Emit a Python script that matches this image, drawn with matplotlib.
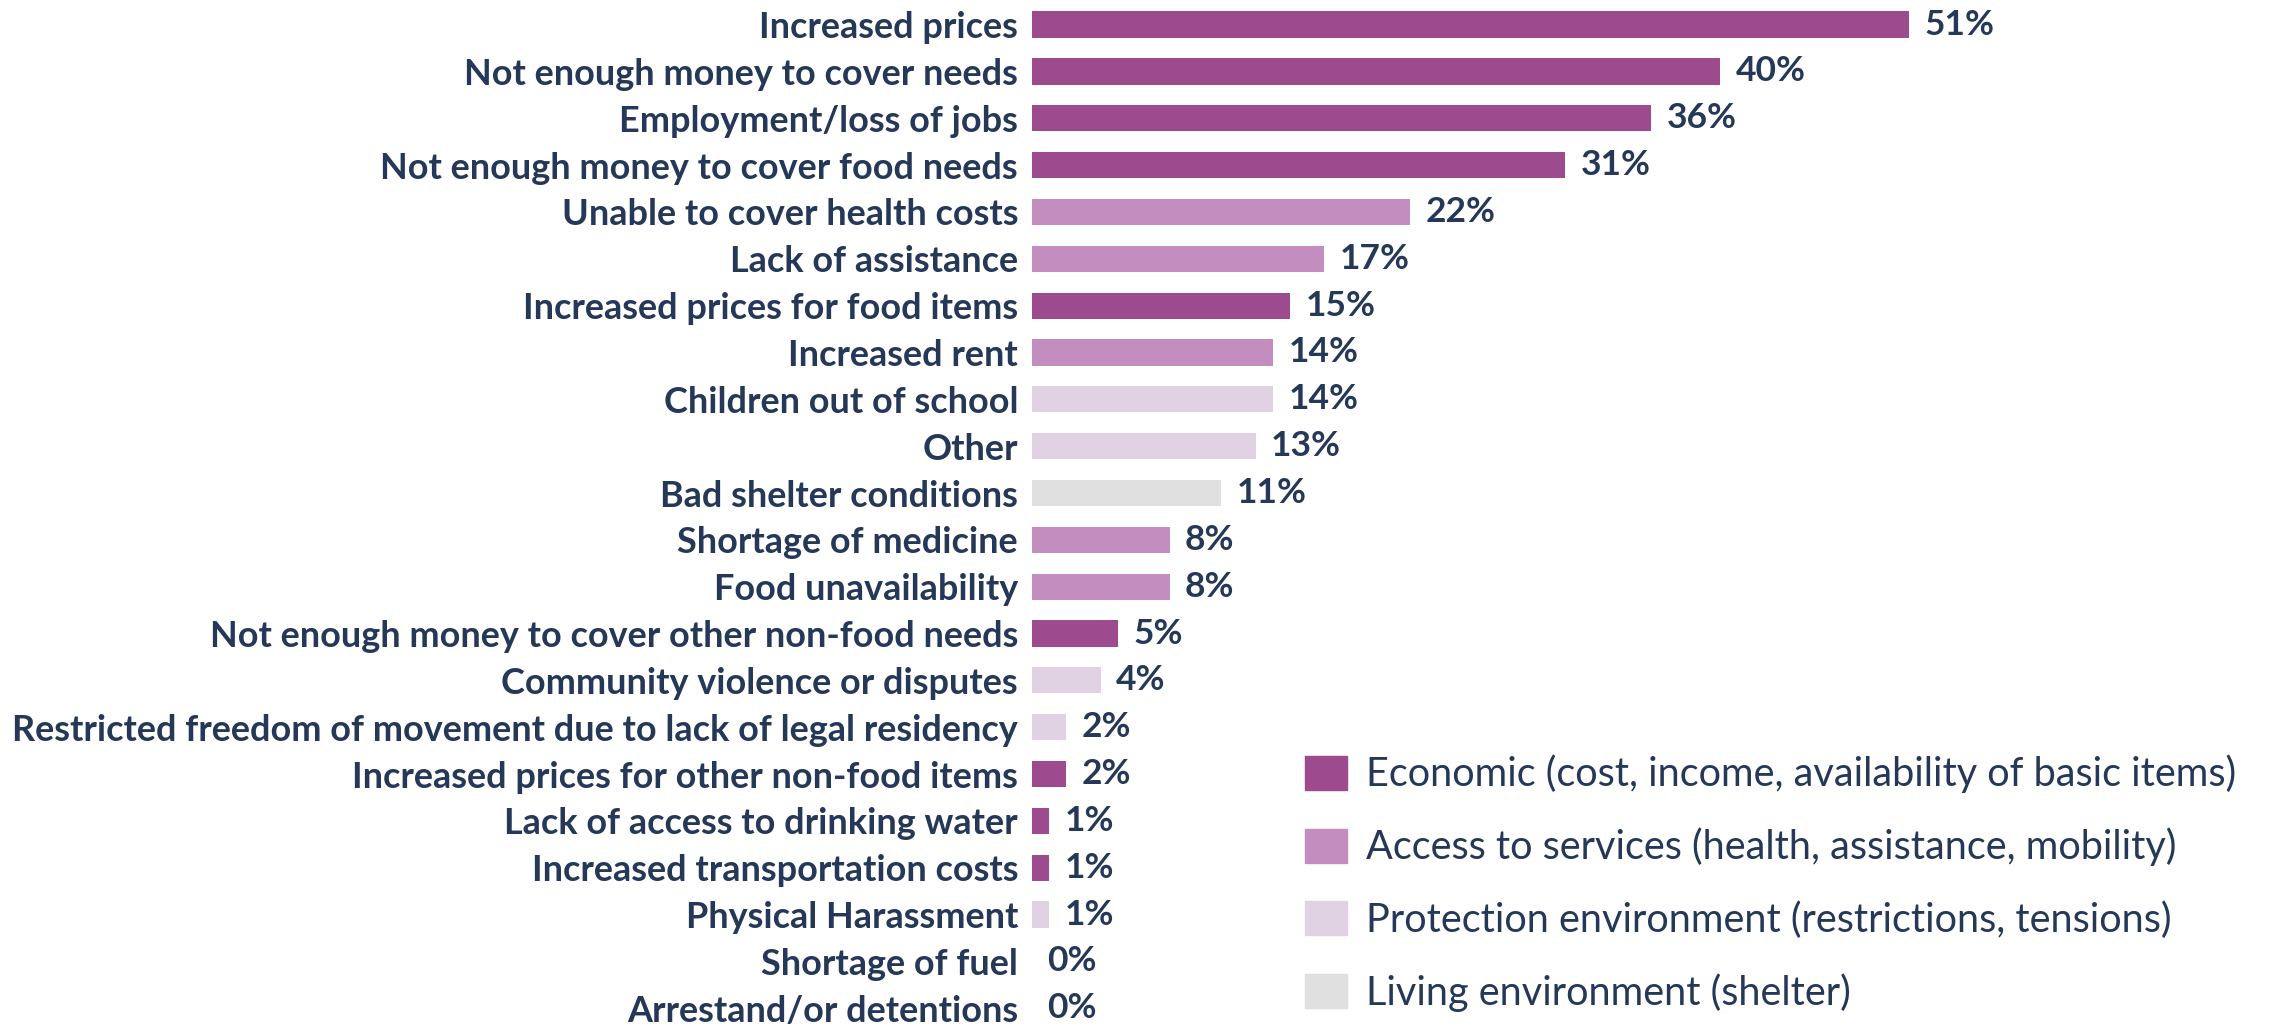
import matplotlib.pyplot as plt
from matplotlib.patches import Patch
import matplotlib.font_manager as fm

# Reasons (top to bottom), values in % and category of each
reasons = [
    "Increased prices",
    "Not enough money to cover needs",
    "Employment/loss of jobs",
    "Not enough money to cover food needs",
    "Unable to cover health costs",
    "Lack of assistance",
    "Increased prices for food items",
    "Increased rent",
    "Children out of school",
    "Other",
    "Bad shelter conditions",
    "Shortage of medicine",
    "Food unavailability",
    "Not enough money to cover other non-food needs",
    "Community violence or disputes",
    "Restricted freedom of movement due to lack of legal residency",
    "Increased prices for other non-food items",
    "Lack of access to drinking water",
    "Increased transportation costs",
    "Physical Harassment",
    "Shortage of fuel",
    "Arrestand/or detentions",
]
values = [51, 40, 36, 31, 22, 17, 15, 14, 14, 13, 11, 8, 8, 5, 4, 2, 2, 1, 1, 1, 0, 0]
groups = ["eco", "eco", "eco", "eco", "acc", "acc", "eco", "acc", "pro", "pro",
          "liv", "acc", "acc", "eco", "pro", "pro", "eco", "eco", "eco", "pro",
          "eco", "pro"]

group_keys = ["eco", "acc", "pro", "liv"]
group_labels = [
    "Economic (cost, income, availability of basic items)",
    "Access to services (health, assistance, mobility)",
    "Protection environment (restrictions, tensions)",
    "Living environment (shelter)",
]
group_colors = {"eco": "#9e4a8f", "acc": "#c48dc0", "pro": "#e1d2e3", "liv": "#e0e0e0"}

text_color = "#253858"
font = "Lato"

fig = plt.figure(figsize=(22.7, 10.27), dpi=100)
ax = fig.add_axes([1032 / 2270, 0, 1 - 1032 / 2270, 1])

ypos = list(range(len(reasons)))
ax.barh(ypos, values, height=0.56, color=[group_colors[g] for g in groups])

# value labels at the end of each bar
for y, v in zip(ypos, values):
    ax.text(v + 0.9, y, f"{v}%", va="center", ha="left", fontsize=25.5,
            fontweight="bold", color=text_color, family=font)

ax.set_yticks(ypos)
ax.set_yticklabels(reasons, fontsize=25.9, fontweight="bold", color=text_color, family=font)
ax.tick_params(axis="y", length=0, pad=10)
ax.set_xticks([])
ax.set_xlim(0, (2270 - 1032) / 17.2)
ax.set_ylim(21.40, -0.525)
for s in ax.spines.values():
    s.set_visible(False)

handles = [Patch(color=group_colors[k]) for k in group_keys]
fig.legend(handles, group_labels, loc="upper left", bbox_to_anchor=(1273 / 2270, 1 - 723 / 1027),
           frameon=False, prop=fm.FontProperties(family=font, size=28.5),
           labelcolor=text_color, handlelength=1.06, handleheight=0.96,
           handletextpad=0.5, labelspacing=0.87, borderpad=0.3)

fig.savefig("out.png", dpi=100)
